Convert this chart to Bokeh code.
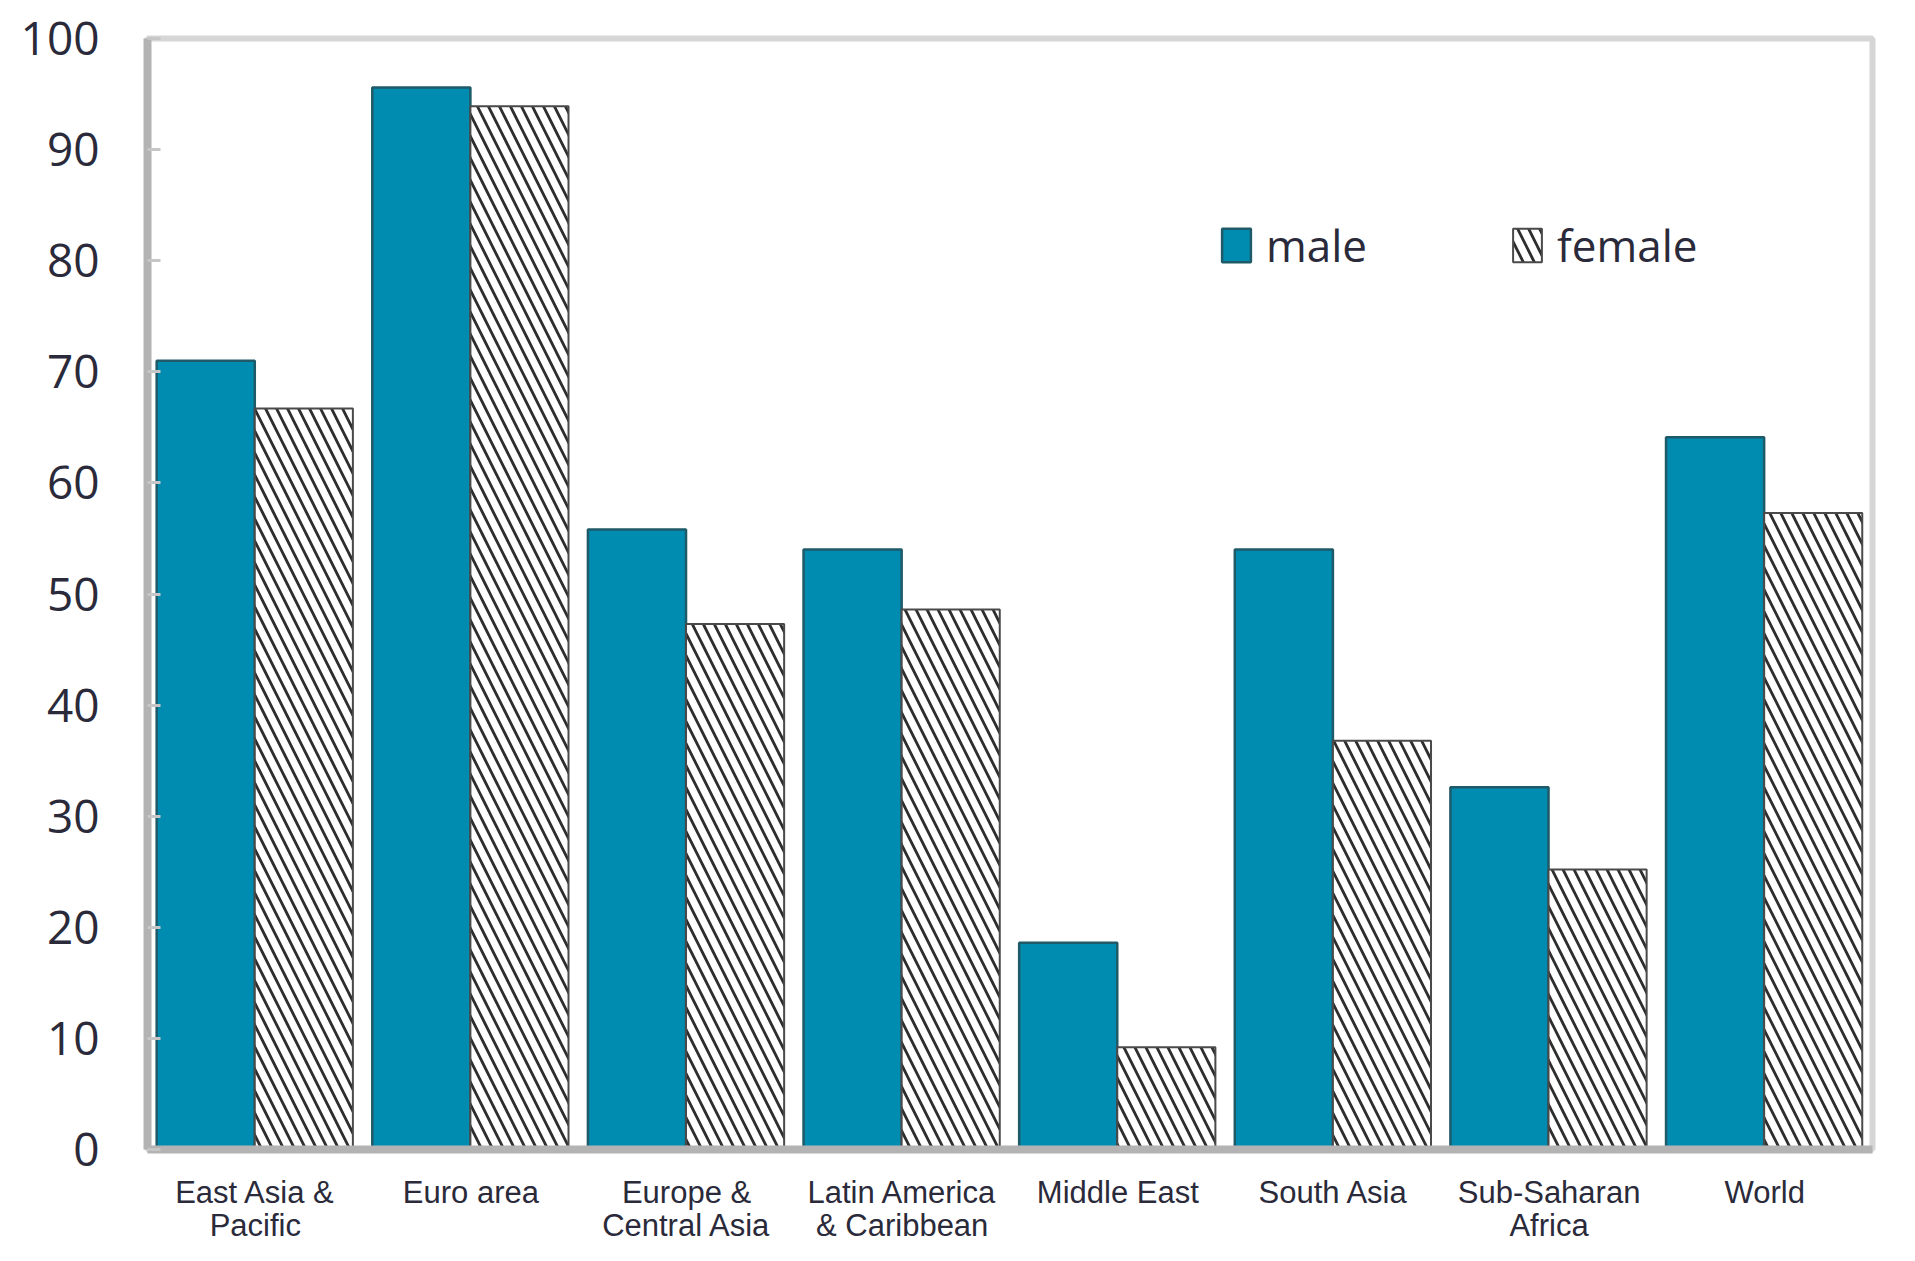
from bokeh.plotting import figure
from bokeh.models import Range1d, FactorRange, Legend, LegendItem, FixedTicker, ColumnDataSource
from bokeh.transform import dodge
from bokeh.embed import file_html
from bokeh.resources import INLINE

# ---- data ----
categories = ["East Asia &\nPacific", "Euro area", "Europe &\nCentral Asia",
              "Latin America\n& Caribbean", "Middle East", "South Asia",
              "Sub-Saharan\nAfrica", "World"]
male = [71.0, 95.6, 55.8, 54.0, 18.6, 54.0, 32.6, 64.1]
female = [66.7, 93.9, 47.3, 48.6, 9.2, 36.8, 25.2, 57.3]
y_ticks = [0, 10, 20, 30, 40, 50, 60, 70, 80, 90, 100]

src = ColumnDataSource(dict(cat=categories, male=male, female=female))

LABEL_FONT = "'Open Sans', sans-serif"
XLABEL_FONT = "'Liberation Sans', sans-serif"

p = figure(x_range=FactorRange(factors=categories, range_padding=0),
           y_range=Range1d(0, 100),
           width=1899, height=1245,
           output_backend="svg", toolbar_location=None,
           min_border_left=147, min_border_right=27,
           min_border_top=38, min_border_bottom=93)
p.background_fill_color = "white"
p.border_fill_color = "white"
p.xgrid.visible = False
p.ygrid.visible = False
p.outline_line_color = "#d6d6d6"
p.outline_line_width = 6

r_m = p.vbar(x=dodge("cat", -0.23, range=p.x_range), top="male", width=0.455,
             source=src, fill_color="#008bb0", line_color="#1f5a68", line_width=2.5)
r_f = p.vbar(x=dodge("cat", 0.225, range=p.x_range), top="female", width=0.455,
             source=src, fill_color="white", line_color="#4a4a4a", line_width=2,
             hatch_pattern="left_diagonal_line", hatch_color="#2e2e2e",
             hatch_scale=22, hatch_weight=2.8)

# y axis
yax = p.yaxis[0]
yax.ticker = FixedTicker(ticks=y_ticks)
yax.axis_line_color = "#b3b3b3"
yax.axis_line_width = 8
yax.major_tick_in = 13
yax.major_tick_out = 0
yax.major_tick_line_color = "#c6c6c6"
yax.major_tick_line_width = 3
yax.minor_tick_line_color = None
yax.minor_tick_in = 0
yax.minor_tick_out = 0
yax.major_label_standoff = 48
yax.major_label_text_font = LABEL_FONT
yax.major_label_text_font_size = "46px"
yax.major_label_text_color = "#2a2a3a"

# x axis
xax = p.xaxis[0]
xax.axis_line_color = "#b3b3b3"
xax.axis_line_width = 8
xax.major_tick_line_color = None
xax.major_tick_in = 0
xax.major_tick_out = 0
xax.minor_tick_line_color = None
xax.minor_tick_in = 0
xax.minor_tick_out = 0
xax.major_label_standoff = 25
xax.major_label_text_font = XLABEL_FONT
xax.major_label_text_font_size = "31px"
xax.major_label_text_line_height = 0.95
xax.major_label_text_color = "#2a2a3a"
xax.major_label_orientation = "horizontal"

legend = Legend(items=[LegendItem(label="male", renderers=[r_m]),
                       LegendItem(label="female", renderers=[r_f])],
                orientation="horizontal", location=(1071, 874),
                glyph_width=36, glyph_height=42, label_standoff=12,
                label_width=100, spacing=142, padding=0, margin=0,
                border_line_color=None, background_fill_alpha=0,
                label_text_font=LABEL_FONT, label_text_font_size="44px",
                label_text_color="#2a2a3a")
p.add_layout(legend)

open("out.html", "w").write(file_html(p, INLINE))
